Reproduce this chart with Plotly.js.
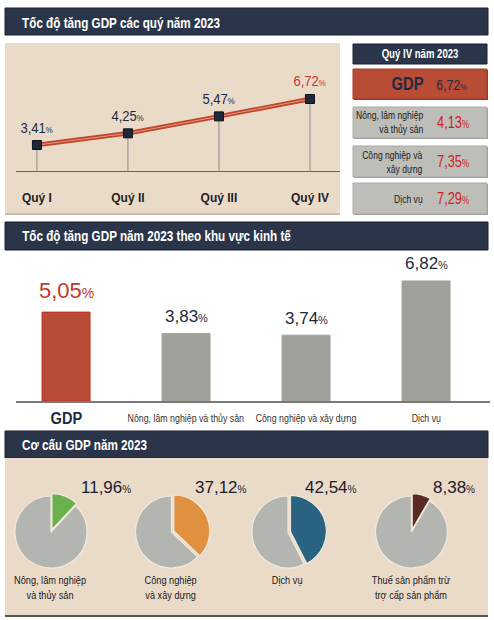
<!DOCTYPE html>
<html><head><meta charset="utf-8">
<script src="https://cdn.plot.ly/plotly-3.0.1.min.js"></script>
<style>html,body{margin:0;padding:0;background:#fff}#c{width:494px;height:620px}</style>
</head><body><div id="c"></div>
<script>
// ---------- DATA ----------
const quarters = ['Quý I', 'Quý II', 'Quý III', 'Quý IV'];
const quarterGrowth = [3.41, 4.25, 5.47, 6.72];
const q4Labels = ['GDP', 'Nông, lâm nghiệp<br>và thủy sản', 'Công nghiệp và<br>xây dựng', 'Dịch vụ'];
const q4Growth = [6.72, 4.13, 7.35, 7.29];
const sectors = ['GDP', 'Nông, lâm nghiệp và thủy sản', 'Công nghiệp và xây dựng', 'Dịch vụ'];
const sectorGrowth = [5.05, 3.83, 3.74, 6.82];
const structureLabels = ['Nông, lâm nghiệp<br>và thủy sản', 'Công nghiệp<br>và xây dựng', 'Dịch vụ', 'Thuế sản phẩm trừ<br>trợ cấp sản phẩm'];
const structureShares = [11.96, 37.12, 42.54, 8.38];
const titles = ['Tốc độ tăng GDP các quý năm 2023', 'Tốc độ tăng GDP năm 2023 theo khu vực kinh tế', 'Cơ cấu GDP năm 2023'];
const q4Title = 'Quý IV năm 2023';

// ---------- STYLE ----------
const W = 494, H = 620;
const FONT = '"Liberation Sans", Arial, sans-serif';
const NAVY = '#1e2a44', RED = '#c0392b', HEAD = '#2b3549', BEIGE = '#eadbc9';
const X = p => p / W, Y = p => 1 - p / H;
const fmt = (v, pct) => v.toFixed(2).replace('.', ',') + "<span style='font-size:" + pct + "px'>%</span>";

const shapes = [];
const rect = (x0, y0, x1, y1, fill, line) => shapes.push({type: 'rect', xref: 'paper', yref: 'paper', x0: X(x0), x1: X(x1), y0: Y(y1), y1: Y(y0), fillcolor: fill, line: {color: line || fill, width: line ? 1 : 0}, layer: 'below'});

rect(5, 8, 488, 35, HEAD, '#1a2130');
rect(5, 43, 340, 215, '#c8beb3');
rect(5, 43, 340, 213, BEIGE);
rect(5, 222, 488, 250, HEAD, '#1a2130');
rect(5, 431, 488, 458, HEAD, '#1a2130');
rect(5, 458, 488, 617, '#555555');
rect(5, 458, 488, 615, BEIGE);
rect(353, 44, 487, 64, HEAD, '#1a2130');
const boxes = [[69, 99], [107, 138], [146, 177], [183, 214]];
boxes.forEach((b, i) => {
  rect(354, b[0] + 1, 488, b[1] + 1, i === 0 ? '#8e3523' : '#9c9c98');
  rect(353, b[0], 487, b[1], i === 0 ? '#b94c35' : '#bebeb9', i === 0 ? '#a23e29' : '#a9a9a4');
});

const ann = [], annScale = [];
const A = (o, s) => { ann.push(Object.assign({showarrow: false, xref: 'paper', yref: 'paper'}, o)); annScale.push(s || 1); };

[22, 236, 444].forEach((y, i) => A({x: X(20), y: Y(y), xanchor: 'left', yanchor: 'middle', text: '<b>' + titles[i] + '</b>', font: {family: FONT, size: 15, color: '#ffffff'}}, 0.78));
A({x: X(420), y: Y(54), xanchor: 'center', yanchor: 'middle', text: '<b>' + q4Title + '</b>', font: {family: FONT, size: 12, color: '#ffffff'}}, 0.8);

q4Labels.forEach((lab, i) => {
  const cy = (boxes[i][0] + boxes[i][1]) / 2;
  if (i === 0) {
    A({x: X(407), y: Y(cy), xanchor: 'center', yanchor: 'middle', text: '<b>' + lab + '</b>', font: {family: FONT, size: 18, color: NAVY}}, 0.82);
    A({x: X(451), y: Y(cy), xanchor: 'center', yanchor: 'middle', text: fmt(q4Growth[i], 9), font: {family: FONT, size: 15, color: NAVY}}, 0.82);
  } else {
    A({x: X(425), y: Y(cy), xanchor: 'right', yanchor: 'middle', align: 'right', text: lab, font: {family: FONT, size: 11, color: '#1a1a1a'}}, 0.78);
    A({x: X(453), y: Y(cy), xanchor: 'center', yanchor: 'middle', text: fmt(q4Growth[i], 10), font: {family: FONT, size: 16, color: '#d0211c'}}, 0.8);
  }
});

const yBase = 1.54;
quarters.forEach((q, i) => A({xref: 'x', yref: 'y', x: q, y: quarterGrowth[i], xanchor: 'center', yanchor: 'middle', yshift: 18, text: fmt(quarterGrowth[i], 9), font: {family: FONT, size: 15, color: i === 3 ? RED : NAVY}}, 0.87));

sectors.forEach((s, i) => {
  const sz = i === 0 ? 22 : 17;
  A({xref: 'x2', yref: 'y2', x: s, y: sectorGrowth[i], xanchor: 'center', yanchor: 'middle', yshift: sz, text: fmt(sectorGrowth[i], Math.round(sz * 0.62)), font: {family: FONT, size: sz, color: i === 0 ? RED : NAVY}});
  if (i === 0) A({xref: 'x2', x: s, y: Y(418), xanchor: 'center', yanchor: 'middle', text: '<b>' + s + '</b>', font: {family: FONT, size: 17, color: NAVY}}, 0.86);
  else A({xref: 'x2', x: s, y: Y(418), xanchor: 'center', yanchor: 'middle', text: s, font: {family: FONT, size: 11, color: '#333'}}, 0.8);
});

const pieCX = [51, 171.5, 288, 411.5], pieCY = 532, pieR = 36, pull = 0.07;
const pieColors = ['#6ab04c', '#e0913f', '#2b6483', '#5b2a22'];
const pieValueX = [106, 221, 331, 454];
const traces = [];

traces.push({type: 'scatter', x: quarters, y: quarterGrowth, mode: 'markers', marker: {opacity: 0}, hoverinfo: 'skip',
  error_y: {type: 'data', symmetric: false, array: quarterGrowth.map(() => 0), arrayminus: quarterGrowth.map(v => v - yBase), color: '#8c8c8c', thickness: 1, width: 0}, xaxis: 'x', yaxis: 'y'});
traces.push({type: 'scatter', x: quarters, y: quarterGrowth, mode: 'lines', line: {color: '#c0432a', width: 4.5}, hoverinfo: 'skip', xaxis: 'x', yaxis: 'y'});
traces.push({type: 'scatter', x: quarters, y: quarterGrowth, mode: 'lines', line: {color: '#e39a83', width: 1}, hoverinfo: 'skip', xaxis: 'x', yaxis: 'y'});
traces.push({type: 'scatter', x: quarters, y: quarterGrowth, mode: 'markers', marker: {symbol: 'square', size: 9, color: '#1f2838', line: {color: '#0d121c', width: 1}}, xaxis: 'x', yaxis: 'y'});

traces.push({type: 'bar', x: sectors, y: sectorGrowth, width: 0.4, xaxis: 'x2', yaxis: 'y2',
  marker: {color: sectors.map((s, i) => i === 0 ? '#b84c36' : '#a1a19c'), line: {color: sectors.map((s, i) => i === 0 ? '#c42f1c' : '#a1a19c'), width: 1}}});

structureShares.forEach((v, i) => {
  const half = pieR * (1 + pull);
  traces.push({type: 'pie', values: [v, 100 - v], sort: false, direction: 'clockwise', rotation: 0,
    marker: {colors: [pieColors[i], '#b2b5b0'], line: {color: '#f3e9dd', width: 1.2}},
    pull: [pull, 0], textinfo: 'none', hoverinfo: 'skip', showlegend: false,
    domain: {x: [X(pieCX[i] - half), X(pieCX[i] + half)], y: [Y(pieCY + half), Y(pieCY - half)]}});
  A({x: X(pieValueX[i]), y: Y(487), xanchor: 'center', yanchor: 'middle', text: fmt(v, 10), font: {family: FONT, size: 17, color: '#1a1d2b'}});
  A({x: X(pieCX[i] - 1), y: Y(572), xanchor: 'center', yanchor: 'top', text: structureLabels[i], font: {family: FONT, size: 11.5, color: '#1a1a1a'}}, 0.8);
});

const layout = {
  width: W, height: H, margin: {l: 0, r: 0, t: 0, b: 0}, paper_bgcolor: '#ffffff', plot_bgcolor: 'rgba(0,0,0,0)',
  showlegend: false, shapes: shapes, annotations: ann, bargap: 0,
  xaxis: {domain: [X(16), X(340)], type: 'category', range: [-0.23, 3.33], showline: true, linecolor: '#666', linewidth: 1.2,
    ticks: 'outside', ticklen: 15, tickcolor: 'rgba(0,0,0,0)', tickangle: 0, tickfont: {family: FONT, size: 12, color: '#222', weight: 700}, showgrid: false, zeroline: false, fixedrange: true},
  yaxis: {domain: [Y(171), Y(48)], range: [yBase, yBase + 123 / 13.9], visible: false, fixedrange: true},
  xaxis2: {anchor: 'y2', domain: [X(16), X(490)], type: 'category', range: [-0.417, 3.533], showline: true, linecolor: '#7a7a7a', linewidth: 1.5,
    ticks: '', showticklabels: false, showgrid: false, zeroline: false, fixedrange: true},
  yaxis2: {anchor: 'x2', domain: [Y(401), Y(255)], range: [0, 146 / 17.6], visible: false, fixedrange: true}
};

Plotly.newPlot('c', traces, layout, {displayModeBar: false, staticPlot: true}).then(gd => {
  gd.querySelectorAll('g.annotation').forEach(g => {
    const i = +g.getAttribute('data-index');
    const s = annScale[i];
    if (!s || s === 1) return;
    const t = g.querySelector('text.annotation-text');
    if (!t) return;
    const bb = t.getBBox();
    const a = ann[i].xanchor;
    const p = a === 'left' ? bb.x : a === 'right' ? bb.x + bb.width : bb.x + bb.width / 2;
    const ex = t.getAttribute('transform') || '';
    t.setAttribute('transform', ex + ' translate(' + p + ',0) scale(' + s + ',1) translate(' + (-p) + ',0)');
  });
});
</script></body></html>
